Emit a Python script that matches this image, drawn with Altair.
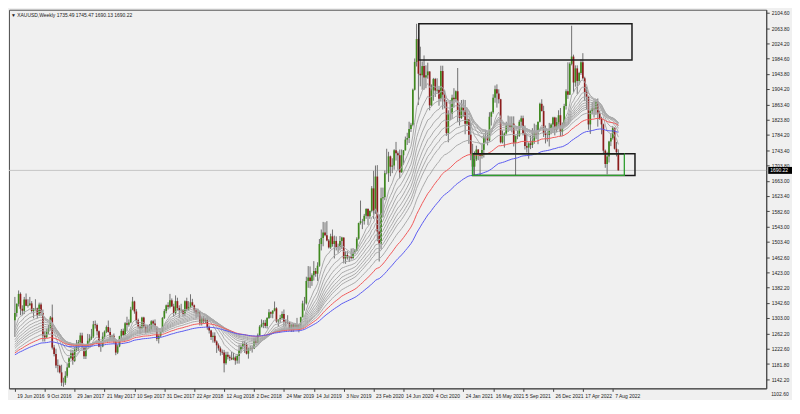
import altair as alt
import pandas as pd

symbol = "XAUUSD"
timeframe = "Weekly"

# ---- weekly OHLC, one bar per week starting 19 Jun 2016 ----
open_2016 = [1297,1316,1340,1366,1327,1322,1351,1335,1336,1341,1321,1327,1328,1310,1338,1316,1257,1252,1267,1276,1304,1225,1208,1178,1177,1160,1133,1133]
high_2016 = [1358,1341,1375,1370,1336,1358,1367,1352,1358,1347,1329,1352,1330,1343,1343,1325,1268,1275,1285,1308,1338,1232,1222,1194,1180,1180,1146,1163]
low_2016 = [1253,1306,1333,1310,1310,1313,1334,1330,1335,1317,1302,1322,1302,1308,1308,1241,1241,1250,1261,1272,1220,1202,1171,1160,1157,1124,1122,1127]
close_2016 = [1316,1340,1366,1327,1322,1351,1335,1336,1341,1321,1327,1328,1310,1338,1316,1257,1252,1267,1276,1304,1225,1208,1178,1177,1160,1133,1133,1151]

open_2017 = [1151,1173,1197,1210,1190,1220,1234,1239,1257,1226,1202,1229,1243,1249,1254,1286,1284,1268,1228,1228,1254,1267,1279,1266,1254,1256,1242,1212,1228,1255,1269,1258,1289,1285,1291,1325,1346,1320,1297,1280,1275,1304,1280,1266,1269,1274,1294,1288,1280,1248,1256,1266,1303]
high_2017 = [1183,1200,1220,1219,1226,1245,1245,1264,1264,1233,1233,1261,1260,1274,1295,1296,1288,1270,1236,1265,1270,1283,1296,1277,1259,1262,1243,1233,1256,1274,1275,1292,1306,1299,1332,1358,1348,1326,1301,1283,1306,1306,1284,1285,1287,1297,1298,1299,1280,1260,1268,1305,1326]
low_2017 = [1146,1172,1194,1180,1187,1214,1216,1229,1225,1195,1195,1227,1238,1245,1250,1275,1257,1226,1214,1226,1248,1263,1264,1247,1242,1236,1205,1208,1226,1244,1254,1256,1267,1280,1289,1323,1314,1288,1275,1260,1275,1276,1262,1264,1267,1270,1280,1271,1242,1236,1252,1266,1300]
close_2017 = [1173,1197,1210,1190,1220,1234,1239,1257,1226,1202,1229,1243,1249,1254,1286,1284,1268,1228,1228,1254,1267,1279,1266,1254,1256,1242,1212,1228,1255,1269,1258,1289,1285,1291,1325,1346,1320,1297,1280,1275,1304,1280,1266,1269,1274,1294,1288,1280,1248,1256,1266,1303,1321]

open_2018 = [1321,1336,1332,1349,1333,1316,1347,1329,1322,1324,1313,1347,1325,1332,1344,1336,1323,1315,1319,1291,1302,1294,1298,1279,1270,1253,1256,1241,1231,1223,1214,1212,1184,1206,1201,1197,1194,1199,1191,1203,1218,1227,1235,1233,1209,1222,1223,1222,1248,1238,1257,1280]
high_2018 = [1338,1344,1366,1354,1340,1362,1356,1336,1340,1326,1349,1356,1347,1365,1353,1338,1327,1327,1322,1307,1308,1303,1309,1283,1272,1265,1265,1244,1236,1228,1220,1219,1214,1214,1206,1214,1211,1204,1208,1233,1233,1243,1243,1237,1225,1230,1229,1250,1252,1262,1284,1299]
low_2018 = [1315,1325,1328,1332,1306,1310,1322,1303,1316,1307,1307,1321,1322,1328,1333,1315,1302,1306,1283,1283,1288,1289,1272,1262,1245,1238,1237,1211,1217,1204,1206,1160,1180,1194,1190,1192,1192,1180,1183,1183,1210,1221,1211,1207,1196,1217,1212,1221,1233,1236,1256,1278]
close_2018 = [1336,1332,1349,1333,1316,1347,1329,1322,1324,1313,1347,1325,1332,1344,1336,1323,1315,1319,1291,1302,1294,1298,1279,1270,1253,1256,1241,1231,1223,1214,1212,1184,1206,1201,1197,1194,1199,1191,1203,1218,1227,1235,1233,1209,1222,1223,1222,1248,1238,1257,1280,1286]

open_2019 = [1286,1290,1282,1303,1318,1314,1322,1328,1294,1298,1303,1313,1292,1291,1291,1276,1286,1279,1285,1277,1284,1305,1341,1341,1400,1409,1400,1415,1426,1419,1440,1497,1513,1527,1520,1506,1488,1517,1497,1505,1489,1490,1505,1514,1459,1468,1462,1464,1460,1476,1479,1511]
high_2019 = [1297,1298,1305,1326,1320,1323,1346,1331,1300,1311,1320,1325,1298,1310,1293,1288,1289,1289,1303,1287,1306,1348,1358,1411,1439,1438,1420,1452,1434,1449,1510,1535,1555,1554,1557,1510,1524,1535,1519,1517,1498,1518,1516,1514,1478,1478,1466,1485,1486,1484,1515,1553]
low_2019 = [1276,1276,1275,1300,1303,1302,1320,1290,1280,1290,1298,1281,1280,1287,1270,1266,1266,1277,1275,1265,1273,1304,1322,1338,1382,1381,1387,1401,1411,1400,1437,1480,1491,1517,1504,1485,1484,1490,1459,1480,1474,1480,1484,1446,1445,1456,1450,1456,1457,1470,1478,1508]
close_2019 = [1290,1282,1303,1318,1314,1322,1328,1294,1298,1303,1313,1292,1291,1291,1276,1286,1279,1285,1277,1284,1305,1341,1341,1400,1409,1400,1415,1426,1419,1440,1497,1513,1527,1520,1506,1488,1517,1497,1505,1489,1490,1505,1514,1459,1468,1462,1464,1460,1476,1479,1511,1552]

open_2020 = [1552,1557,1557,1571,1589,1570,1584,1643,1585,1674,1530,1498,1617,1620,1683,1683,1727,1700,1703,1743,1735,1730,1685,1730,1743,1771,1775,1799,1810,1902,1975,2035,1944,1940,1964,1934,1940,1950,1861,1900,1930,1900,1902,1878,1951,1889,1871,1788,1839,1839,1881,1877]
high_2020 = [1611,1563,1576,1591,1591,1584,1649,1689,1703,1704,1575,1645,1645,1690,1747,1739,1729,1722,1746,1765,1740,1745,1745,1743,1779,1789,1818,1815,1905,1984,2075,2039,2015,1976,1992,1966,1973,1950,1916,1933,1933,1932,1912,1965,1965,1900,1875,1848,1875,1889,1906,1900]
low_2020 = [1548,1536,1548,1563,1547,1563,1580,1563,1576,1504,1451,1483,1567,1612,1680,1660,1675,1683,1692,1716,1692,1670,1684,1705,1742,1757,1762,1791,1806,1900,1963,1862,1911,1902,1902,1906,1931,1848,1859,1873,1883,1894,1860,1871,1850,1853,1781,1764,1822,1825,1855,1870]
close_2020 = [1557,1557,1571,1589,1570,1584,1643,1585,1674,1530,1498,1617,1620,1683,1683,1727,1700,1703,1743,1735,1730,1685,1730,1743,1771,1775,1799,1810,1902,1975,2035,1944,1940,1964,1934,1940,1950,1861,1900,1930,1900,1902,1878,1951,1889,1871,1788,1839,1839,1881,1877,1898]

open_2021 = [1898,1849,1828,1856,1847,1813,1824,1784,1734,1700,1719,1745,1732,1728,1744,1777,1777,1769,1831,1843,1881,1903,1892,1877,1764,1781,1787,1808,1812,1802,1813,1763,1780,1781,1818,1827,1787,1754,1750,1761,1757,1768,1793,1783,1818,1865,1846,1788,1783,1783,1798,1811]
high_2021 = [1959,1863,1875,1876,1875,1855,1826,1816,1760,1740,1755,1746,1736,1758,1785,1797,1790,1843,1845,1890,1913,1916,1903,1878,1795,1790,1818,1834,1832,1832,1832,1782,1795,1823,1834,1834,1808,1787,1764,1781,1801,1813,1810,1818,1868,1877,1860,1808,1793,1815,1814,1831]
low_2021 = [1817,1808,1825,1831,1785,1808,1760,1717,1687,1676,1715,1717,1677,1721,1724,1763,1756,1766,1808,1839,1868,1855,1866,1761,1761,1750,1784,1791,1794,1790,1753,1677,1772,1778,1806,1782,1745,1737,1721,1746,1749,1760,1772,1759,1816,1845,1778,1761,1766,1753,1785,1788]
close_2021 = [1849,1828,1856,1847,1813,1824,1784,1734,1700,1719,1745,1732,1728,1744,1777,1777,1769,1831,1843,1881,1903,1892,1877,1764,1781,1787,1808,1812,1802,1813,1763,1780,1781,1818,1827,1787,1754,1750,1761,1757,1768,1793,1783,1818,1865,1846,1788,1783,1783,1798,1811,1829]

open_2022 = [1829,1797,1817,1835,1791,1807,1859,1898,1889,1970,1989,1921,1958,1925,1946,1974,1932,1896,1883,1811,1846,1853,1850,1871,1840,1826,1811,1742,1707,1727,1766,1775,1802,1747,1735.49]
high_2022 = [1831,1829,1848,1854,1816,1865,1903,1974,1974,2070,1994,1966,1966,1949,1982,1998,1936,1910,1885,1849,1870,1874,1876,1879,1847,1831,1813,1745,1739,1768,1788,1807,1803,1765,1745.47]
low_2022 = [1782,1790,1805,1780,1781,1806,1850,1878,1888,1966,1895,1910,1890,1915,1941,1929,1872,1850,1797,1786,1837,1829,1836,1805,1823,1785,1732,1697,1680,1711,1754,1771,1745,1727,1690.13]
close_2022 = [1797,1817,1835,1791,1807,1859,1898,1889,1970,1989,1921,1958,1925,1946,1974,1932,1896,1883,1811,1846,1853,1850,1871,1840,1826,1811,1742,1707,1727,1766,1775,1802,1747,1738,1690.22]

# ---- axis labels ----
x_tick_weeks = [0, 16, 32, 48, 64, 80, 96, 112, 128, 144, 160, 176, 192, 208, 224, 240, 256, 272, 288, 304, 320]
x_tick_labels = ["19 Jun 2016", "9 Oct 2016", "29 Jan 2017", "21 May 2017", "10 Sep 2017", "31 Dec 2017",
                 "22 Apr 2018", "12 Aug 2018", "2 Dec 2018", "24 Mar 2019", "14 Jul 2019", "3 Nov 2019",
                 "23 Feb 2020", "14 Jun 2020", "4 Oct 2020", "24 Jan 2021", "16 May 2021", "5 Sep 2021",
                 "26 Dec 2021", "17 Apr 2022", "7 Aug 2022"]
y_ticks = [2104.60, 2063.80, 2024.20, 1984.60, 1943.80, 1904.20, 1863.40, 1823.80, 1784.20, 1743.40,
           1703.80, 1663.00, 1623.40, 1582.60, 1543.00, 1503.40, 1462.60, 1423.00, 1382.20, 1342.60,
           1303.00, 1262.20, 1222.60, 1181.80, 1142.20]
bottom_price_label = 1102.60

# ---- moving-average ribbon (EMA of close), starting levels read at left edge ----
ma_periods = [10, 15, 20, 25, 30, 35, 40, 45, 50, 60, 75, 100]
ma_start = [1268, 1262, 1255, 1248, 1241, 1235, 1229, 1224, 1219, 1212, 1208, 1204]
ma_colors = ["#a9a9a9"] * 10 + ["#f05a5a", "#5a5af0"]

# ---- drawn zones (week index, price) ----
zone_start = [216.2, 245.0]
zone_end = [330.3, 331.9]
zone_top = [2075.0, 1734.0]
zone_bottom = [1980.0, 1677.0]
green_start = [245.0]
green_end = [326.2]
green_top = [1734.0]
green_bottom = [1677.0]

open_ = open_2016 + open_2017 + open_2018 + open_2019 + open_2020 + open_2021 + open_2022
high = high_2016 + high_2017 + high_2018 + high_2019 + high_2020 + high_2021 + high_2022
low = low_2016 + low_2017 + low_2018 + low_2019 + low_2020 + low_2021 + low_2022
close = close_2016 + close_2017 + close_2018 + close_2019 + close_2020 + close_2021 + close_2022

df = pd.DataFrame({"i": range(len(close)), "open": open_, "high": high, "low": low, "close": close})
df["dir"] = ["up" if c >= o else "down" for o, c in zip(open_, close)]

rows = []
for k, (p, s) in enumerate(zip(ma_periods, ma_start)):
    a = 2.0 / (p + 1)
    e = s
    for i, c in enumerate(close):
        e = e + a * (c - e)
        rows.append({"i": i, "ma": f"EMA {p}", "k": k, "v": e})
ma_df = pd.DataFrame(rows)
ma_names = [f"EMA {p}" for p in ma_periods]

zones_df = pd.DataFrame({"x0": zone_start, "x1": zone_end, "hi": zone_top, "lo": zone_bottom})
green_df = pd.DataFrame({"x0": green_start, "x1": green_end, "hi": green_top, "lo": green_bottom})
last_df = pd.DataFrame({"p": [close[-1]]})
header = f"\u25bc {symbol},{timeframe}  {open_[-1]:.2f} {high[-1]:.2f} {low[-1]:.2f} {close[-1]:.2f}"
header_df = pd.DataFrame({"t": [header]})
bottom_df = pd.DataFrame({"t": [f"{bottom_price_label:.2f}"]})

W, H = 764, 382
FONT = "Liberation Sans"
FS = 5
xs = alt.Scale(domain=[-0.5, 399.5], nice=False, zero=False)
ys = alt.Scale(domain=[1118, 2112], nice=False, zero=False)

labels_js = "[" + ",".join(f"'{s}'" for s in x_tick_labels) + "]"
weeks_js = "[" + ",".join(str(v) for v in x_tick_weeks) + "]"
x_axis = alt.Axis(values=x_tick_weeks, labelExpr=f"{labels_js}[indexof({weeks_js}, datum.value)]",
                  labelAlign="left", labelOffset=2, labelOverlap=False, labelFlush=False,
                  tickSize=3, labelPadding=2, grid=False)
y_axis = alt.Axis(orient="right", values=y_ticks, format=".2f", labelOverlap=False, labelFlush=False,
                  tickSize=3, labelPadding=2, grid=False)


def X(field):
    return alt.X(field, scale=xs, axis=x_axis, title=None)


def Y(field):
    return alt.Y(field, scale=ys, axis=y_axis, title=None)


bid_line = alt.Chart(last_df).mark_rule(color="#c4c4c4", strokeWidth=1).encode(y=Y("p:Q"))

wicks = alt.Chart(df).mark_rule(color="#707070", strokeWidth=1).encode(x=X("i:Q"), y=Y("low:Q"), y2="high:Q")
bodies = alt.Chart(df).mark_bar(size=1.7).encode(
    x=X("i:Q"), y=Y("open:Q"), y2="close:Q",
    color=alt.Color("dir:N", scale=alt.Scale(domain=["up", "down"], range=["#3f8a1e", "#8e1c1c"]), legend=None),
)

mas = alt.Chart(ma_df).mark_line(strokeWidth=1).encode(
    x=X("i:Q"), y=Y("v:Q"),
    stroke=alt.Stroke("ma:N", scale=alt.Scale(domain=ma_names, range=ma_colors), legend=None),
    order="i:Q",
)

zones = alt.Chart(zones_df).mark_rect(fillOpacity=0, stroke="#1c1c1c", strokeWidth=1.5).encode(
    x=X("x0:Q"), x2="x1:Q", y=Y("hi:Q"), y2="lo:Q")
green_zone = alt.Chart(green_df).mark_rect(fillOpacity=0, stroke="#2f9e2f", strokeWidth=1.3).encode(
    x=X("x0:Q"), x2="x1:Q", y=Y("hi:Q"), y2="lo:Q")
green_top_line = alt.Chart(green_df).mark_rule(color="#1c1c1c", strokeWidth=1.5).encode(
    x=X("x0:Q"), x2="x1:Q", y=Y("hi:Q"))

header_text = alt.Chart(header_df).mark_text(align="left", baseline="middle", fontSize=FS, font=FONT,
                                             color="#1a1a1a").encode(x=alt.value(2), y=alt.value(5), text="t:N")

tag_box = alt.Chart(last_df).mark_tick(orient="horizontal", size=24, thickness=7, color="#000000", opacity=1).encode(
    x=alt.value(W + 14), y=Y("p:Q"))
tag_text = alt.Chart(last_df).mark_text(align="left", baseline="middle", fontSize=FS, font=FONT, color="#ffffff").encode(
    x=alt.value(W + 4), y=Y("p:Q"), text=alt.Text("p:Q", format=".2f"))
bottom_text = alt.Chart(bottom_df).mark_text(align="left", baseline="middle", fontSize=FS, font=FONT,
                                             color="#1a1a1a").encode(x=alt.value(W + 5), y=alt.value(H + 6), text="t:N")

chart = alt.layer(
    bid_line, wicks, bodies, mas, zones, green_zone, green_top_line, header_text, tag_box, tag_text, bottom_text
).resolve_scale(
    color="independent", stroke="independent"
).properties(
    width=W, height=H, padding=0, background="#f0f0f0"
).configure_view(
    stroke="#555555", strokeWidth=1
).configure_axis(
    labelFont=FONT, labelFontSize=FS, labelColor="#1a1a1a", tickColor="#444444", domainColor="#444444"
)

chart.save("out.html", embed_options={"renderer": "svg", "actions": False})
